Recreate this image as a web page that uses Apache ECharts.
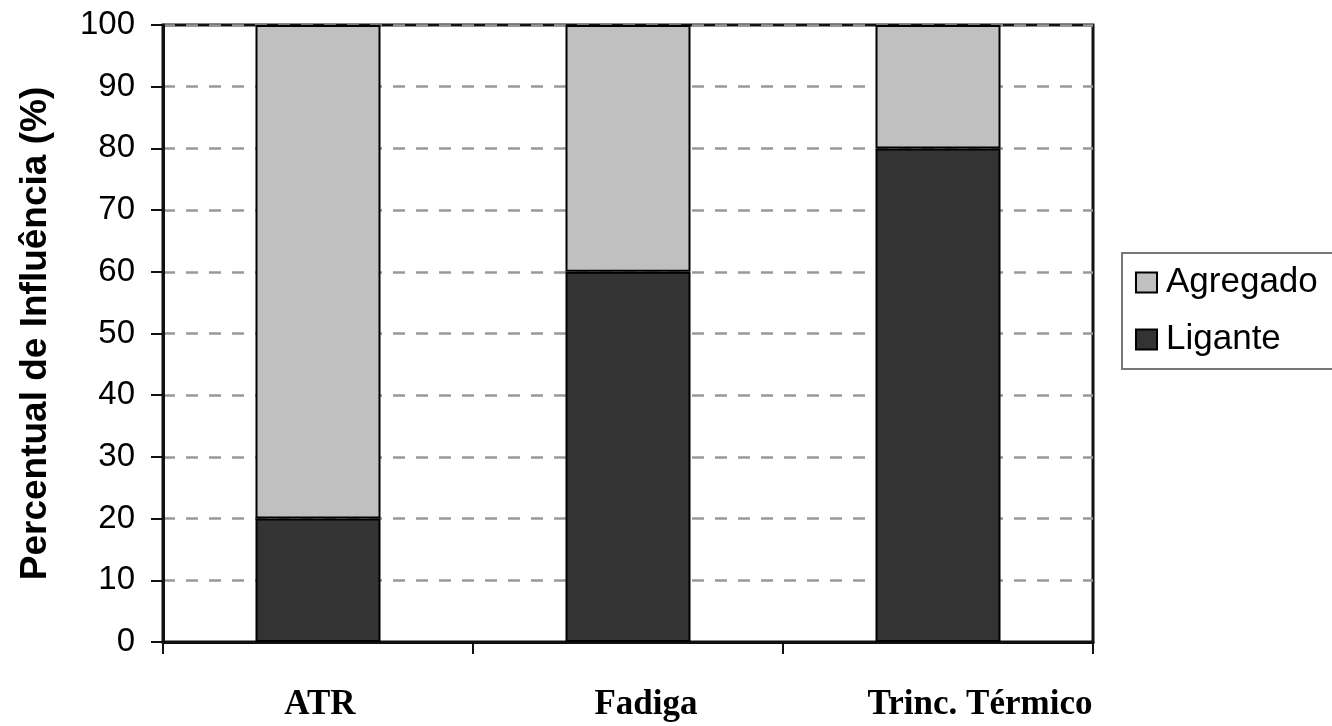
<!DOCTYPE html>
<html><head><meta charset="utf-8">
<script src="https://cdn.jsdelivr.net/npm/echarts@6/dist/echarts.min.js"></script>
<style>html,body{margin:0;padding:0;background:#fff}#c{width:1332px;height:726px}</style>
</head><body><div id="c"></div>
<script>
const categories = ['ATR', 'Fadiga', 'Trinc. Térmico'];
const ligante = [20, 60, 80];
const agregado = [80, 40, 20];
const yTicks = [0, 10, 20, 30, 40, 50, 60, 70, 80, 90, 100];

const xFont = {fontFamily: 'Liberation Serif, Times New Roman', fontWeight: 'bold', fontSize: 35, color: '#000'};
const chart = echarts.init(document.getElementById('c'), null, {renderer: 'canvas'});
chart.setOption({
  animation: false,
  backgroundColor: '#fff',
  grid: {left: 163, right: 239, top: 25, bottom: 84, show: true, borderColor: '#111', borderWidth: 3, backgroundColor: 'transparent'},
  legend: {
    orient: 'vertical', left: 1122, top: 253,
    data: ['Agregado', 'Ligante'],
    itemWidth: 21, itemHeight: 20, itemGap: 22,
    padding: [12, 40, 12, 13],
    borderColor: '#777', borderWidth: 2,
    textStyle: {fontFamily: 'Liberation Sans, Arial', fontSize: 35, color: '#000', padding: [0, 0, 0, 4]},
    icon: 'rect'
  },
  xAxis: {
    type: 'category', data: categories,
    axisLine: {show: true, lineStyle: {color: '#111', width: 3}},
    axisTick: {show: true, alignWithLabel: false, length: 12, lineStyle: {color: '#111', width: 2}},
    axisLabel: {
      margin: 45,
      formatter: (v, i) => '{c' + i + '|' + v + '}',
      rich: {
        c0: Object.assign({padding: [0, 0, 0, 4]}, xFont),
        c1: Object.assign({padding: [0, 0, 0, 36]}, xFont),
        c2: Object.assign({padding: [0, 0, 0, 84]}, xFont)
      }
    }
  },
  yAxis: {
    type: 'value', min: 0, max: 100, interval: 10,
    name: 'Percentual de Influência (%)', nameLocation: 'middle', nameGap: 109,
    nameTextStyle: {fontFamily: 'Liberation Sans, Arial', fontWeight: 'bold', fontSize: 37, color: '#000'},
    axisLine: {show: true, lineStyle: {color: '#111', width: 3}},
    axisTick: {show: true, length: 12, lineStyle: {color: '#111', width: 2}},
    axisLabel: {fontFamily: 'Liberation Sans, Arial', fontSize: 33, color: '#000', margin: 28,
      formatter: v => yTicks.includes(v) ? String(v) : ''},
    splitLine: {show: true, lineStyle: {color: '#999', width: 2.5, type: [12, 11]}}
  },
  series: [
    {name: 'Ligante', type: 'bar', stack: 's', data: ligante, barWidth: 125,
     itemStyle: {color: '#333333', borderColor: '#000', borderWidth: 2}},
    {name: 'Agregado', type: 'bar', stack: 's', data: agregado, barWidth: 125,
     itemStyle: {color: '#c0c0c0', borderColor: '#000', borderWidth: 2}}
  ]
});
</script></body></html>
